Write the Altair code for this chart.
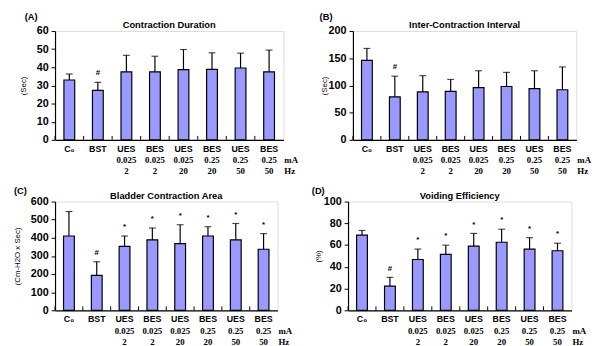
import altair as alt
import pandas as pd

# ---------------- data ----------------
CATS = ["C0", "BST", "UES1", "BES1", "UES2", "BES2", "UES3", "BES3"]
ROW1 = ["C₀", "BST", "UES", "BES", "UES", "BES", "UES", "BES"]
ROW2 = ["", "", "0.025", "0.025", "0.025", "0.25", "0.25", "0.25"]
ROW3 = ["", "", "2", "2", "20", "20", "50", "50"]
UNITS = ["mA", "Hz"]

TAGS = ["(A)", "(B)", "(C)", "(D)"]
TITLES = ["Contraction Duration", "Inter-Contraction Interval",
          "Bladder Contraction Area", "Voiding Efficiency"]
YTITLES = ["(Sec)", "(Sec)", "(Cm-H2O x Sec)", "(%)"]

A_MEAN = [33.0, 27.3, 37.5, 37.5, 38.7, 38.9, 39.6, 37.5]
A_HI = [36.3, 31.7, 46.6, 46.1, 49.8, 48.0, 47.8, 49.5]
A_ANN = ["", "#", "", "", "", "", "", ""]

B_MEAN = [146, 79, 88, 89, 96, 98, 94, 92]
B_HI = [168, 117, 118, 111, 127, 124, 127, 134]
B_ANN = ["", "#", "", "", "", "", "", ""]

C_MEAN = [410, 193, 353, 389, 368, 410, 389, 337]
C_HI = [545, 268, 410, 454, 472, 461, 479, 423]
C_ANN = ["", "#", "*", "*", "*", "*", "*", "*"]

D_MEAN = [69.2, 22.3, 46.7, 51.5, 59.0, 62.6, 56.3, 54.8]
D_HI = [73.4, 30.3, 56.3, 59.9, 70.7, 74.6, 66.8, 61.7]
D_ANN = ["", "#", "*", "*", "*", "*", "*", "*"]

FILL = "#9999ff"
SANS = "Liberation Sans"
SERIF = "Liberation Serif"


def panel(mean, hi, ann, ymax, step, w, h, ytitle, ytitle_x, title, tag, tag_x, tag_y):
    df = pd.DataFrame({"cat": CATS, "r1": ROW1, "r2": ROW2, "r3": ROW3,
                       "mean": mean, "hi": hi, "ann": ann})
    xs = alt.Scale(paddingInner=0, paddingOuter=0)
    xax = alt.Axis(labels=False, ticks=False, title=None,
                   domainColor="black", domainWidth=1.2)
    x = alt.X("cat:N", sort=CATS, scale=xs, axis=xax)
    ysc = alt.Scale(domain=[0, ymax], nice=False)
    yax = alt.Axis(values=list(range(0, ymax + 1, step)), grid=False,
                   labelOverlap=False, labelFlush=False,
                   domainColor="black", domainWidth=1.2,
                   tickColor="black", tickSize=4, tickWidth=1,
                   labelFont=SANS, labelFontSize=11, labelFontWeight="bold",
                   labelColor="black", labelPadding=3,
                   titleFont=SANS, titleFontSize=8, titleFontWeight="normal",
                   titleColor="black", titleX=ytitle_x, titleY=h / 2,
                   titleBaseline="middle", titleAngle=270)

    def Y(field):
        return alt.Y(field, scale=ysc, title=ytitle, axis=yax)

    base = alt.Chart(df)
    bars = base.mark_bar(size=11, color=FILL, stroke="black", strokeWidth=1.2).encode(
        x=x, y=Y("mean:Q"))
    err = base.mark_rule(color="black", strokeWidth=1.2).encode(
        x=x, y=Y("mean:Q"), y2="hi:Q")
    cap = base.mark_tick(color="black", size=7, thickness=1.2).encode(x=x, y=Y("hi:Q"))
    note = base.mark_text(dy=-9, fontSize=8, fontWeight="bold", font=SANS, color="black").encode(
        x=x, y=Y("hi:Q"), text="ann:N")
    xt = base.mark_rule(color="black", strokeWidth=1).encode(
        x=alt.X("cat:N", sort=CATS, scale=xs, axis=xax, bandPosition=0),
        y=alt.value(h), y2=alt.value(h - 4))
    r1 = base.mark_text(fontSize=9, fontWeight="bold", font=SANS, color="black").encode(
        x=x, y=alt.value(h + 9), text="r1:N")
    r2 = base.mark_text(fontSize=9, fontWeight="bold", font=SERIF, color="black").encode(
        x=x, y=alt.value(h + 21), text="r2:N")
    r3 = base.mark_text(fontSize=9, fontWeight="bold", font=SERIF, color="black").encode(
        x=x, y=alt.value(h + 32), text="r3:N")
    u1 = alt.Chart(pd.DataFrame({"t": [UNITS[0]]})).mark_text(
        fontSize=9, fontWeight="bold", font=SERIF, color="black", align="left").encode(
        x=alt.value(w + 1), y=alt.value(h + 21), text="t:N")
    u2 = alt.Chart(pd.DataFrame({"t": [UNITS[1]]})).mark_text(
        fontSize=9, fontWeight="bold", font=SERIF, color="black", align="left").encode(
        x=alt.value(w + 1), y=alt.value(h + 32), text="t:N")
    ttl = alt.Chart(pd.DataFrame({"t": [title]})).mark_text(
        fontSize=9.5, fontWeight="bold", font=SANS, color="black").encode(
        x=alt.value(w / 2), y=alt.value(-6), text="t:N")
    tg = alt.Chart(pd.DataFrame({"t": [tag]})).mark_text(
        fontSize=9.5, fontWeight="bold", font=SANS, color="black", align="left").encode(
        x=alt.value(tag_x), y=alt.value(tag_y), text="t:N")
    return alt.layer(bars, err, cap, note, xt, r1, r2, r3, u1, u2, ttl, tg).properties(
        width=w, height=h)


pA = panel(A_MEAN, A_HI, A_ANN, 60, 10, 233, 111, YTITLES[0], -32.5, TITLES[0], TAGS[0], -31, -14)
pB = panel(B_MEAN, B_HI, B_ANN, 200, 50, 228, 111, YTITLES[1], -29, TITLES[1], TAGS[1], -34, -14)
pC = panel(C_MEAN, C_HI, C_ANN, 600, 100, 227, 111, YTITLES[2], -38.5, TITLES[2], TAGS[2], -42, -11)
pD = panel(D_MEAN, D_HI, D_ANN, 100, 20, 228, 111, YTITLES[3], -30.5, TITLES[3], TAGS[3], -37, -11)

row1 = alt.hconcat(pA, pB, spacing=20)
row2 = alt.hconcat(pC, pD, spacing=18)

chart = alt.vconcat(row1, row2, spacing=8).properties(
    padding={"left": 5, "top": 0, "right": 2, "bottom": 0}
).configure_view(stroke=None).configure(background="white")

chart.save("out.html", embed_options={"renderer": "svg", "actions": False})
